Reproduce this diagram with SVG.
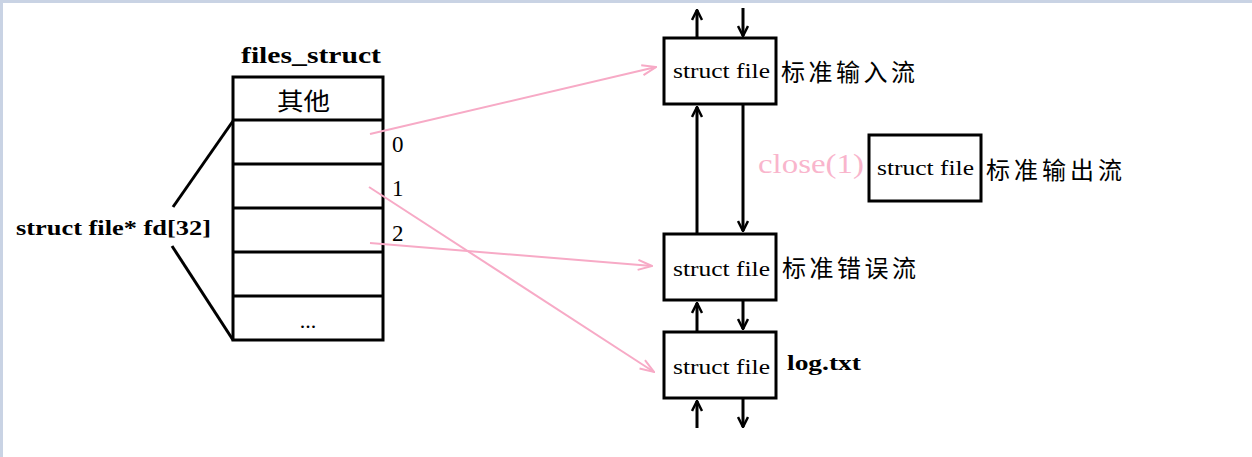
<svg xmlns="http://www.w3.org/2000/svg" width="1252" height="457" viewBox="0 0 1252 457">
<style>
.box{fill:#fff;stroke:#000;stroke-width:3}
.ln{stroke:#000;stroke-width:3;fill:none}
.pk{stroke:#f7aac6;stroke-width:2;fill:none}
.t{font-family:"Liberation Serif","Noto Sans CJK SC",serif;fill:#000}
.sf{font-family:"Liberation Serif",serif;font-size:21px;fill:#000}
.cn{font-family:"Noto Sans CJK SC",sans-serif;fill:#000;font-size:24px}
</style>
<defs>
<marker id="ab" viewBox="0 0 12 12" refX="11" refY="6" markerWidth="12" markerHeight="12" markerUnits="userSpaceOnUse" orient="auto">
<path d="M1,1 L11,6 L1,11" fill="none" stroke="#000" stroke-width="2.5"/>
</marker>
<marker id="ap" viewBox="0 0 16 12" refX="15" refY="6" markerWidth="16" markerHeight="12" markerUnits="userSpaceOnUse" orient="auto">
<path d="M1,1 L15,6 L1,11" fill="none" stroke="#f7aac6" stroke-width="2"/>
</marker>
</defs>
<rect x="0" y="0" width="1252" height="457" fill="#fff"/>
<rect x="0" y="0" width="1252" height="3" fill="#c9d3e4"/>
<rect x="0" y="0" width="3" height="457" fill="#c9d3e4"/>

<g id="files_struct">
<text class="t" x="241" y="63" font-size="24" font-weight="bold" textLength="140" lengthAdjust="spacingAndGlyphs">files_struct</text>
<rect class="box" x="233" y="77" width="150" height="263"/>
<line class="ln" x1="233" y1="120" x2="383" y2="120"/>
<line class="ln" x1="233" y1="164" x2="383" y2="164"/>
<line class="ln" x1="233" y1="208" x2="383" y2="208"/>
<line class="ln" x1="233" y1="252" x2="383" y2="252"/>
<line class="ln" x1="233" y1="296" x2="383" y2="296"/>
<text class="cn" x="277" y="110" font-size="24" textLength="53" lengthAdjust="spacingAndGlyphs">其他</text>
<text class="t" x="308" y="328" font-size="22" text-anchor="middle">...</text>
<text class="t" x="392" y="152" font-size="23">0</text>
<text class="t" x="392" y="196" font-size="23">1</text>
<text class="t" x="392" y="241" font-size="23">2</text>
</g>

<g id="fd_label">
<line class="ln" x1="233" y1="121" x2="173" y2="207"/>
<line class="ln" x1="172" y1="246" x2="233" y2="340"/>
<text class="t" x="16" y="235" font-size="22" font-weight="bold" textLength="195" lengthAdjust="spacingAndGlyphs">struct file* fd[32]</text>
</g>

<g id="stdin">
<rect class="box" x="664" y="38" width="112" height="66"/>
<text class="sf" x="673" y="78" textLength="97" lengthAdjust="spacingAndGlyphs">struct file</text>
<text class="cn" x="781" y="81" textLength="134" lengthAdjust="spacing">标准输入流</text>
</g>

<g id="stdout">
<rect class="box" x="869" y="135" width="112" height="66"/>
<text class="sf" x="877" y="175" textLength="97" lengthAdjust="spacingAndGlyphs">struct file</text>
<text class="cn" x="986" y="179" textLength="136" lengthAdjust="spacing">标准输出流</text>
</g>

<g id="stderr">
<rect class="box" x="664" y="234" width="112" height="66"/>
<text class="sf" x="673" y="276" textLength="97" lengthAdjust="spacingAndGlyphs">struct file</text>
<text class="cn" x="782" y="277" textLength="134" lengthAdjust="spacing">标准错误流</text>
</g>

<g id="logtxt">
<rect class="box" x="664" y="332" width="112" height="66"/>
<text class="sf" x="673" y="374" textLength="97" lengthAdjust="spacingAndGlyphs">struct file</text>
<text class="t" x="787" y="370" font-size="22" font-weight="bold" textLength="74" lengthAdjust="spacingAndGlyphs">log.txt</text>
</g>

<text class="t" x="758" y="173" font-size="28" style="fill:#f9b5cc" textLength="106" lengthAdjust="spacingAndGlyphs">close(1)</text>

<g id="connectors">
<line class="ln" x1="697" y1="37" x2="697" y2="10" marker-end="url(#ab)"/>
<line class="ln" x1="743" y1="8" x2="743" y2="36" marker-end="url(#ab)"/>
<line class="ln" x1="697" y1="233" x2="697" y2="107" marker-end="url(#ab)"/>
<line class="ln" x1="743" y1="105" x2="743" y2="231" marker-end="url(#ab)"/>
<line class="ln" x1="697" y1="331" x2="697" y2="303" marker-end="url(#ab)"/>
<line class="ln" x1="743" y1="301" x2="743" y2="329" marker-end="url(#ab)"/>
<line class="ln" x1="697" y1="428" x2="697" y2="401" marker-end="url(#ab)"/>
<line class="ln" x1="743" y1="399" x2="743" y2="427" marker-end="url(#ab)"/>
<line class="pk" x1="370" y1="134" x2="656" y2="67" marker-end="url(#ap)"/>
<line class="pk" x1="369" y1="187" x2="654" y2="372" marker-end="url(#ap)"/>
<line class="pk" x1="370" y1="243" x2="652" y2="266" marker-end="url(#ap)"/>
</g>
</svg>
